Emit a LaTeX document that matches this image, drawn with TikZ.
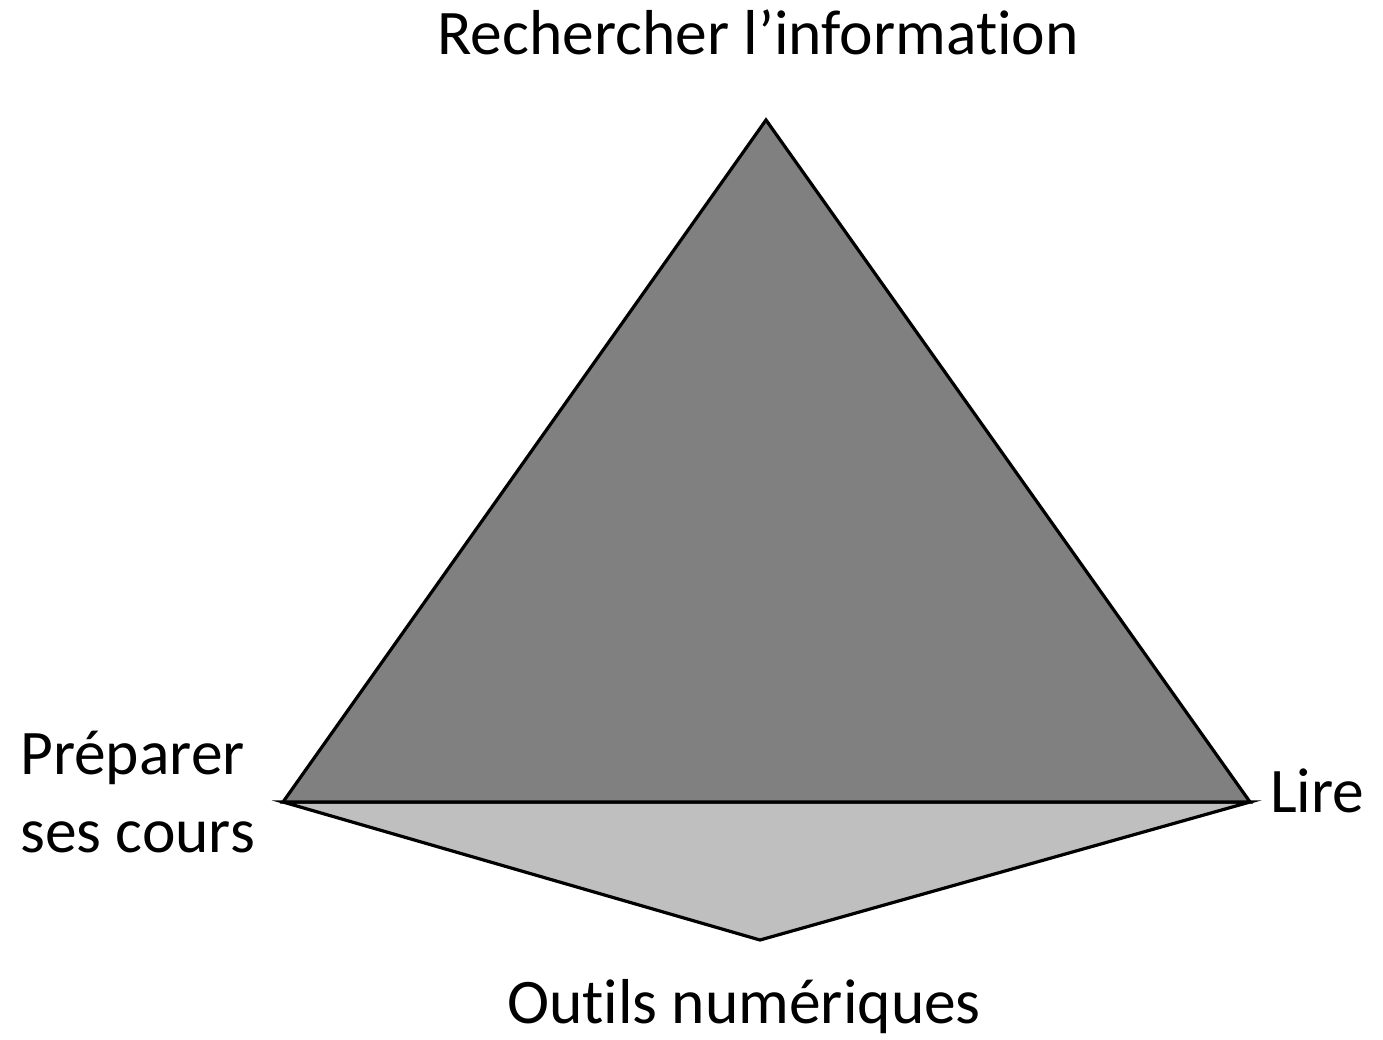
\documentclass[tikz,border=0pt]{standalone}
\usepackage{fontspec}
\setmainfont[Ligatures=NoCommon]{Carlito}
\definecolor{darkface}{HTML}{808080}
\definecolor{lightface}{HTML}{BFBFBF}
\begin{document}
\begin{tikzpicture}[x=1pt,y=-1pt,
  face/.style={draw=black,line width=3.2pt,line join=miter},
  lbl/.style={inner sep=0pt,font=\fontsize{63.5}{78}\selectfont}]
\useasboundingbox (0,0) rectangle (1383,1040);
\coordinate (T) at (766,120);
\coordinate (L) at (283,802);
\coordinate (R) at (1250,802);
\coordinate (B) at (760,940);
\filldraw[face,fill=lightface] (L) -- (R) -- (B) -- cycle;
\filldraw[face,fill=darkface] (L) -- (T) -- (R) -- cycle;
\node[lbl,anchor=base] (top) at (758,55) {Rechercher l’information};
\node[lbl,anchor=base west,align=left] (left) at (20,852) {Préparer\\ses cours};
\node[lbl,anchor=base west] (right) at (1270,812) {Lire};
\node[lbl,anchor=base] (bottom) at (744,1023) {Outils numériques};
\end{tikzpicture}
\end{document}
